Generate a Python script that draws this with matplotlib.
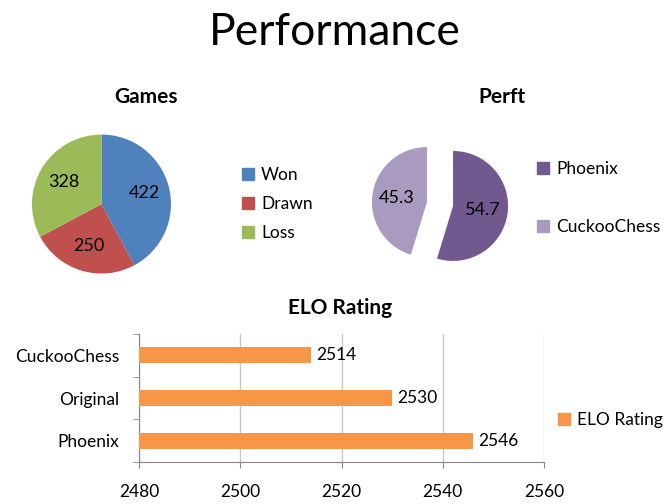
import matplotlib
matplotlib.use("Agg")
import matplotlib.pyplot as plt
from matplotlib.patches import Patch

plt.rcParams['font.family'] = ['Lato', 'DejaVu Sans']

# data
games_labels = ["Won", "Drawn", "Loss"]
games_values = [422, 250, 328]
games_colors = ["#4F81BD", "#C0504D", "#9BBB59"]

perft_labels = ["Phoenix", "CuckooChess"]
perft_values = [54.7, 45.3]
perft_colors = ["#71588F", "#A99BBF"]

elo_engines = ["Phoenix", "Original", "CuckooChess"]
elo_values = [2546, 2530, 2514]
elo_ticks = [2480, 2500, 2520, 2540, 2560]
elo_color = "#F79646"

fig = plt.figure(figsize=(6.7, 5.04), dpi=100)
fig.text(0.5, 0.935, "Performance", ha="center", va="center", fontsize=32)

# --- Games pie ---
ax1 = fig.add_axes([0.0166, 0.4159, 0.2697, 0.3585])
w, t, at = ax1.pie(games_values, colors=games_colors, startangle=90,
                   counterclock=False, autopct="%d", pctdistance=0.63,
                   wedgeprops=dict(linewidth=0))
for txt, v in zip(at, games_values):
    txt.set_text(str(v))
    txt.set_fontsize(13)
ax1.set_xlim(-1.3, 1.3)
ax1.set_ylim(-1.3, 1.3)
ax1.set_aspect("equal")
fig.text(146 / 670, 1 - 97 / 504, "Games", ha="center", va="center",
         fontsize=15, fontweight="bold")
fig.legend(handles=[Patch(color=c, label=l) for c, l in zip(games_colors, games_labels)],
           loc="center left", bbox_to_anchor=(242 / 670, 1 - 204 / 504),
           frameon=False, fontsize=12.5, handlelength=0.7, handleheight=0.7,
           handletextpad=0.4, labelspacing=0.75, borderpad=0, borderaxespad=0)

# --- Perft pie ---
ax2 = fig.add_axes([357.5 / 670, 217.5 / 504, 165 / 670, 165 / 504])
w, t, at = ax2.pie(perft_values, colors=perft_colors, startangle=90,
                   counterclock=False, autopct="%.1f", pctdistance=0.55,
                   explode=[0.24, 0.24], wedgeprops=dict(linewidth=0))
for txt, v in zip(at, perft_values):
    txt.set_text(str(v))
    txt.set_fontsize(13)
ax2.set_xlim(-1.5, 1.5)
ax2.set_ylim(-1.5, 1.5)
ax2.set_aspect("equal")
fig.text(502 / 670, 1 - 97 / 504, "Perft", ha="center", va="center",
         fontsize=15, fontweight="bold")
fig.legend(handles=[Patch(color=c, label=l) for c, l in zip(perft_colors, perft_labels)],
           loc="center left", bbox_to_anchor=(537 / 670, 1 - 198 / 504),
           frameon=False, fontsize=12.5, handlelength=0.7, handleheight=0.7,
           handletextpad=0.4, labelspacing=2.4, borderpad=0, borderaxespad=0)

# --- ELO bar chart ---
ax3 = fig.add_axes([139 / 670, 42 / 504, 405 / 670, 128 / 504])
bars = ax3.barh(range(len(elo_engines)), [v - elo_ticks[0] for v in elo_values],
                left=elo_ticks[0], height=0.38, color=elo_color, zorder=3)
ax3.bar_label(bars, labels=[str(v) for v in elo_values], padding=4, fontsize=12.5)
ax3.set_xlim(elo_ticks[0], elo_ticks[-1])
ax3.set_ylim(-0.5, len(elo_engines) - 0.5)
ax3.set_xticks(elo_ticks)
ax3.set_yticks(range(len(elo_engines)))
ax3.set_yticklabels(elo_engines)
ax3.set_yticks([-0.5, 0.5, 1.5, 2.5], minor=True)
ax3.tick_params(axis="y", which="major", length=0, pad=14, labelsize=12.5)
ax3.tick_params(axis="y", which="minor", length=4, color="#868686", direction="out")
ax3.tick_params(axis="x", length=4, color="#868686", pad=12, labelsize=12.5)
ax3.grid(axis="x", color="#c8c8c8", linewidth=1, zorder=0)
for s in ["top", "right"]:
    ax3.spines[s].set_visible(False)
for s in ["left", "bottom"]:
    ax3.spines[s].set_color("#868686")
fig.text(340 / 670, 1 - 308 / 504, "ELO Rating", ha="center", va="center",
         fontsize=15, fontweight="bold")
fig.legend(handles=[Patch(color=elo_color, label="ELO Rating")],
           loc="center left", bbox_to_anchor=(558 / 670, 1 - 420 / 504),
           frameon=False, fontsize=12.5, handlelength=0.7, handleheight=0.7,
           handletextpad=0.4, borderpad=0, borderaxespad=0)

fig.savefig("out.png", dpi=100)
